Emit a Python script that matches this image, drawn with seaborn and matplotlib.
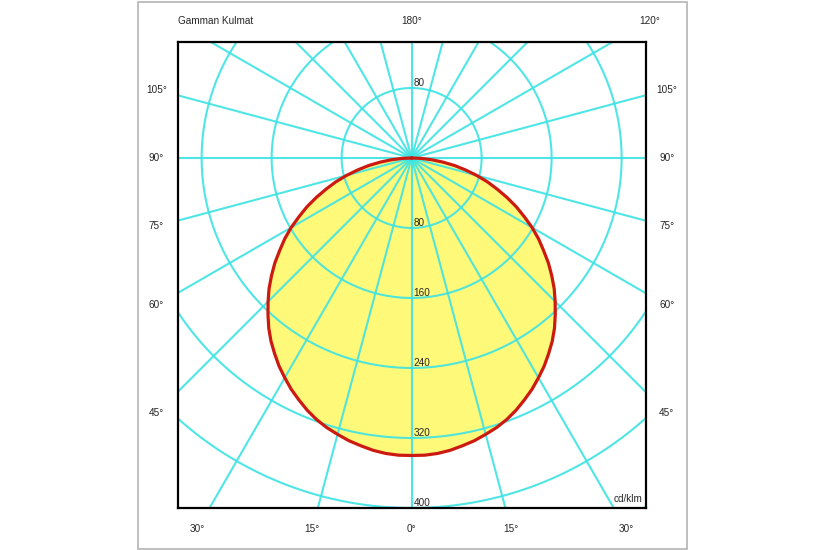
import numpy as np
import pandas as pd
import matplotlib
matplotlib.use("Agg")
import matplotlib.pyplot as plt
import seaborn as sns
from matplotlib.patches import Rectangle

# luminous intensity (cd/klm), gamma 0..90 deg, same in C0 and C180
gamma = [0, 2.5, 5, 7.5, 10, 12.5, 15, 17.5, 20, 22.5, 25, 27.5, 30, 32.5, 35, 37.5,
         40, 42.5, 45, 47.5, 50, 52.5, 55, 57.5, 60, 62.5, 65, 67.5, 70, 72.5, 75,
         77.5, 80, 82.5, 85, 87.5, 90]
intensity = [340, 340, 339, 337, 334, 331, 327, 323, 318, 312, 305, 298, 290, 282, 273, 264,
             254, 243, 232, 221, 209, 197, 184, 172, 159, 145, 132, 118, 104, 91, 77,
             63, 50, 36, 23, 11, 0]

ring_values = [80, 160, 240, 320, 400, 480]
ring_labels = ["80", "160", "240", "320", "400"]
spoke_step = 15

side_angles = [105, 90, 75, 60, 45]
bottom_angles = [30, 15, 0, 15, 30]
bottom_sides = [-1, -1, 0, 1, 1]
top_angles = [180, 120]

title_text = "Gamman Kulmat"
unit_text = "cd/klm"

sns.set_style("white")
plt.rcParams['font.family'] = ['Liberation Sans', 'DejaVu Sans']

# build the closed curve: C180 half on the left, C0 half on the right
g = np.radians(gamma)
I = np.array(intensity, dtype=float)
xs = np.concatenate([-I[::-1] * np.sin(g[::-1]), I[1:] * np.sin(g[1:])])
ys = np.concatenate([-I[::-1] * np.cos(g[::-1]), -I[1:] * np.cos(g[1:])])
curve = pd.DataFrame({"x": xs, "y": ys})

fig = plt.figure(figsize=(8.25, 5.5), dpi=100)
fig.patch.set_facecolor("white")
fig.patches.append(Rectangle((138 / 825, 1.5 / 550), 549 / 825, 546.5 / 550,
                             transform=fig.transFigure, fill=False,
                             edgecolor="#b4b4b4", linewidth=1.2))

ax = fig.add_axes([178 / 825, 1 - 508 / 550, 467.5 / 825, 466.5 / 550])
ax.set_xlim(-267, 267.3)
ax.set_ylim(-400, 133.1)
ax.set_aspect("equal")
ax.set_xticks([])
ax.set_yticks([])
for s in ax.spines.values():
    s.set_color("black")
    s.set_linewidth(1.6)
    s.set_zorder(6)

grid_col = "#3de3e3"
ax.fill(curve["x"], curve["y"], color="#fff97a", zorder=1, linewidth=0)

t = np.linspace(0, 2 * np.pi, 721)
for r in ring_values:
    ax.plot(r * np.cos(t), r * np.sin(t), color=grid_col, lw=1.5, zorder=2, alpha=0.9)
for a in range(0, 360, spoke_step):
    ar = np.radians(a)
    ax.plot([0, 700 * np.sin(ar)], [0, -700 * np.cos(ar)], color=grid_col, lw=1.5,
            zorder=2, alpha=0.9)

sns.lineplot(data=curve, x="x", y="y", sort=False, estimator=None, color="#cc1a10",
             lw=2.3, ax=ax, zorder=3, solid_joinstyle="round")
ax.set_xlabel("")
ax.set_ylabel("")

fs = 7.2
ax.text(2, 80, ring_labels[0], fontsize=fs, ha="left", va="bottom", zorder=4)
for lab, r in zip(ring_labels, ring_values):
    ax.text(2, -r, lab, fontsize=fs, ha="left", va="bottom", zorder=4)
ax.text(264, -396, unit_text, fontsize=fs, ha="right", va="bottom", zorder=7)

# angle labels around the box
xl, yb, yt = 291.5, -424, 157
for a in side_angles:
    ar = np.radians(a)
    y = -xl * np.cos(ar) / np.sin(ar)
    for sgn in (-1, 1):
        ax.text(sgn * xl, y, f"{a}°", fontsize=fs, ha="center", va="center", clip_on=False)
for a, sgn in zip(bottom_angles, bottom_sides):
    x = sgn * (-yb) * np.tan(np.radians(a))
    ax.text(x, yb, f"{a}°", fontsize=fs, ha="center", va="center", clip_on=False)
for a in top_angles:
    ar = np.radians(a)
    x = yt * np.sin(ar) / (-np.cos(ar))
    ax.text(x, yt, f"{a}°", fontsize=fs, ha="center", va="center", clip_on=False)
ax.text(-267, yt, title_text, fontsize=fs, ha="left", va="center", clip_on=False)

fig.savefig("out.png", dpi=100)
